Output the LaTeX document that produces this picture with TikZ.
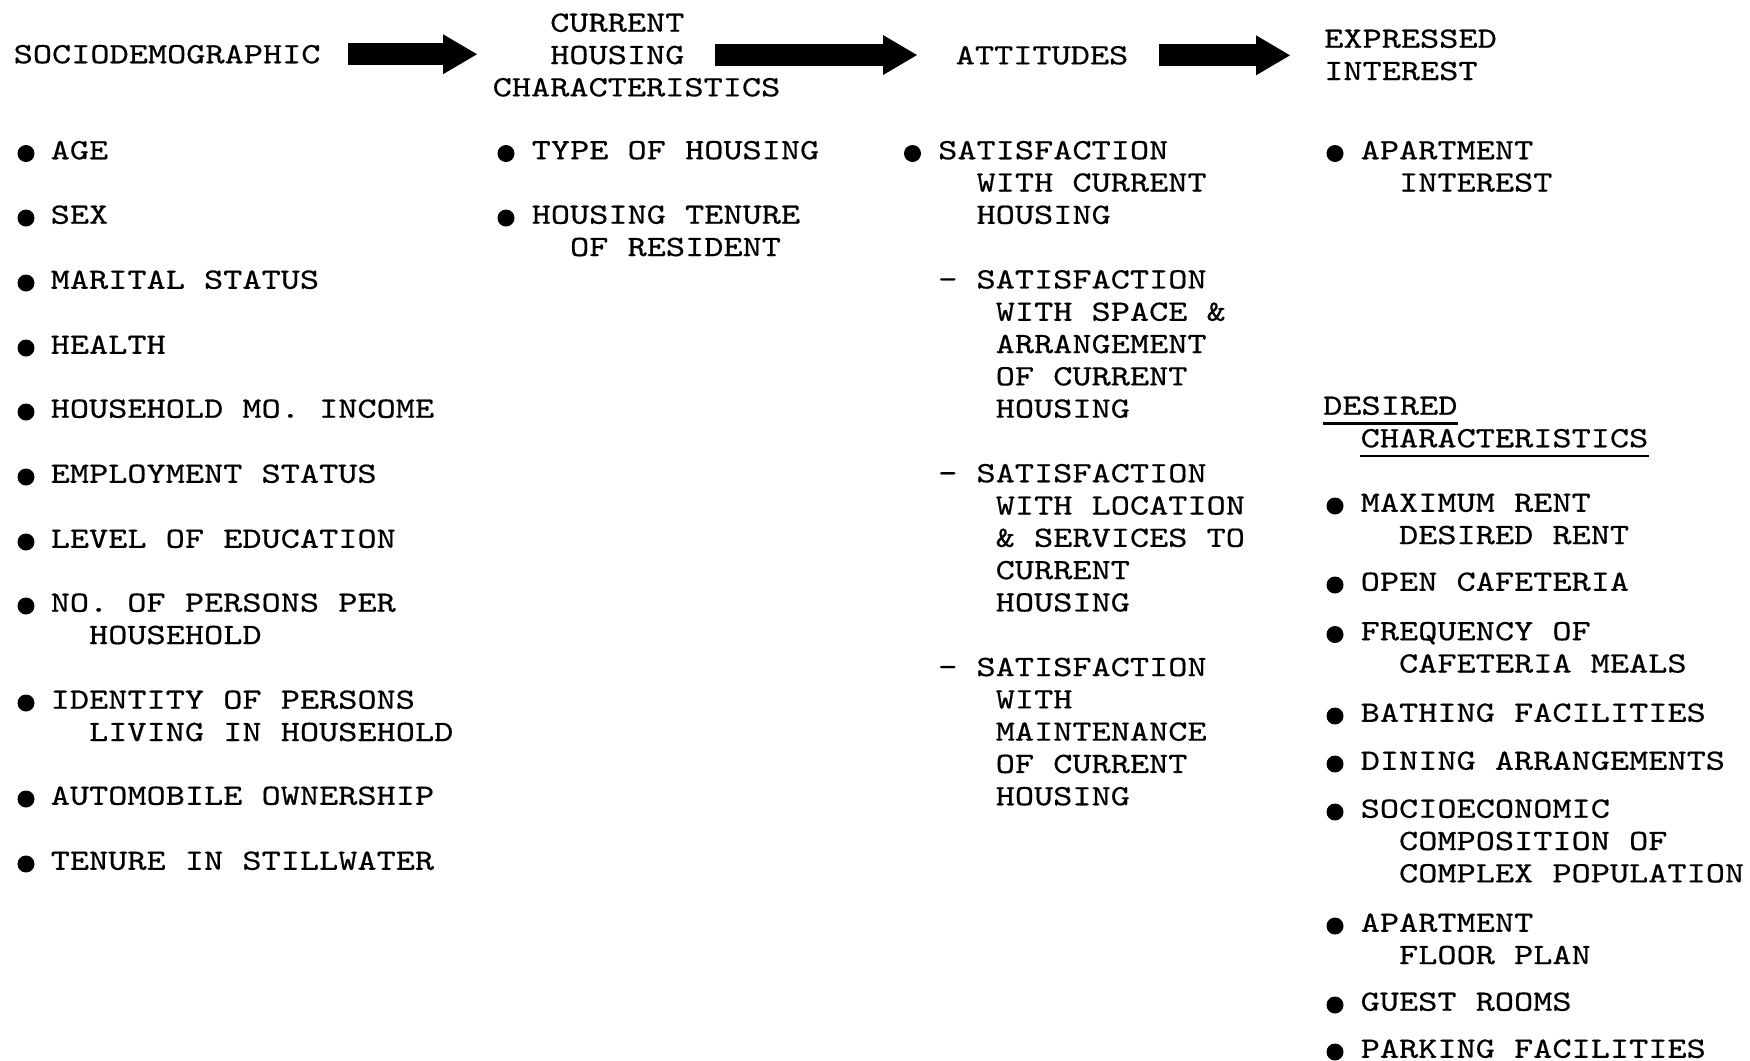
\documentclass[tikz,border=0pt]{standalone}
\usepackage{fontspec}
\newfontfamily\typer{lmmono10-regular.otf}[FakeStretch=1.24,FakeBold=0.5]
\usetikzlibrary{arrows.meta}

\tikzset{
  txt/.style={anchor=north west, yshift=1.83mm, inner sep=0pt, align=left,
    font=\typer\fontsize{8.38}{9.19}\selectfont},
  flow/.style={line width=2.2mm, -{Triangle[length=3.4mm, width=4mm, line width=0pt]}},
  uline/.style={line width=0.7pt}
}

\begin{document}
\begin{tikzpicture}[x=0.1mm, y=-0.1mm]
  \useasboundingbox (0,0) rectangle (1750,1061);

  % headings
  \node[txt] (socio) at (13,62.5) {SOCIODEMOGRAPHIC};
  \node[txt] (house) at (492,31) {\phantom{MMM}CURRENT\\\phantom{MMM}HOUSING\\CHARACTERISTICS};
  \node[txt] (att) at (955,63.6) {ATTITUDES};
  \node[txt] (expr) at (1323.5,47) {EXPRESSED\\INTEREST};

  \draw[flow, shorten <=2.7mm, shorten >=1.5mm] (socio.east) -- (socio.east -| house.west);
  \draw[flow, shorten >=3.8mm] ([xshift=-6.6mm]house.east) -- (house.east -| att.west);
  \draw[flow, shorten <=3mm, shorten >=3.35mm] (att.east) -- (att.east -| expr.west);

  % sociodemographic variables
  \foreach \y/\lab [count=\i] in {158.5/AGE, 223/SEX, 288/MARITAL STATUS, 353/HEALTH,
      417/HOUSEHOLD MO. INCOME, 482/EMPLOYMENT STATUS, 547/LEVEL OF EDUCATION,
      611/{NO. OF PERSONS PER\\\phantom{MM}HOUSEHOLD},
      708/{IDENTITY OF PERSONS\\\phantom{MM}LIVING IN HOUSEHOLD},
      804/AUTOMOBILE OWNERSHIP, 869/TENURE IN STILLWATER} {
    \node[txt] (soc\i) at (50,\y) {\lab};
    \fill (soc\i.north west) ++(-24,13.3) circle[radius=8.5];
  }

  % current housing
  \foreach \y/\lab [count=\i] in {158.5/TYPE OF HOUSING,
      223/{HOUSING TENURE\\\phantom{MM}OF RESIDENT}} {
    \node[txt] (hou\i) at (531,\y) {\lab};
    \fill (hou\i.north west) ++(-25,13.3) circle[radius=8.5];
  }

  % attitudes
  \node[txt] (sat) at (937.5,158.5) {SATISFACTION\\\phantom{MM}WITH CURRENT\\\phantom{MM}HOUSING};
  \fill (sat.north west) ++(-25,13.3) circle[radius=8.5];
  \node[txt] (space) at (937.5,287.7) {- SATISFACTION\\\phantom{MMM}WITH SPACE \&\\\phantom{MMM}ARRANGEMENT\\\phantom{MMM}OF CURRENT\\\phantom{MMM}HOUSING};
  \node[txt] (loc) at (937.5,481.5) {- SATISFACTION\\\phantom{MMM}WITH LOCATION\\\phantom{MMM}\& SERVICES TO\\\phantom{MMM}CURRENT\\\phantom{MMM}HOUSING};
  \node[txt] (maint) at (937.5,675.3) {- SATISFACTION\\\phantom{MMM}WITH\\\phantom{MMM}MAINTENANCE\\\phantom{MMM}OF CURRENT\\\phantom{MMM}HOUSING};

  % expressed interest
  \node[txt] (apt) at (1360,158.5) {APARTMENT\\\phantom{MM}INTEREST};
  \fill (apt.north west) ++(-25,13.3) circle[radius=8.5];

  \node[txt] (des) at (1322.5,414) {DESIRED};
  \node[txt] (chr) at (1360,446.5) {CHARACTERISTICS};
  \draw[uline] ([yshift=-0.9mm]des.base west) -- ([yshift=-0.9mm]des.base east);
  \draw[uline] ([yshift=-0.9mm]chr.base west) -- ([yshift=-0.9mm]chr.base east);

  \foreach \y/\lab [count=\i] in {511/{MAXIMUM RENT\\\phantom{MM}DESIRED RENT},
      590/OPEN CAFETERIA, 639.5/{FREQUENCY OF\\\phantom{MM}CAFETERIA MEALS},
      721/BATHING FACILITIES, 769/DINING ARRANGEMENTS,
      817/{SOCIOECONOMIC\\\phantom{MM}COMPOSITION OF\\\phantom{MM}COMPLEX POPULATION},
      931/{APARTMENT\\\phantom{MM}FLOOR PLAN}, 1010/GUEST ROOMS, 1057/PARKING FACILITIES} {
    \node[txt] (des\i) at (1360,\y) {\lab};
    \fill (des\i.north west) ++(-25,13.3) circle[radius=8.5];
  }
\end{tikzpicture}
\end{document}
